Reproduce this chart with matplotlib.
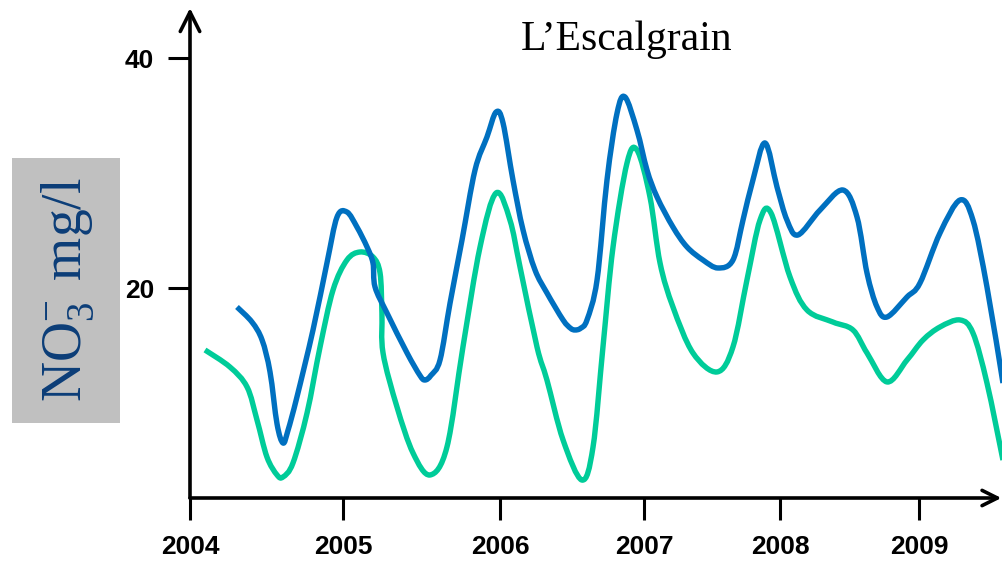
import numpy as np
import matplotlib
matplotlib.use("Agg")
import matplotlib.pyplot as plt
from matplotlib.patches import Rectangle, PathPatch
from matplotlib.path import Path

# ---------------- data (decimal years, NO3- mg/l) ----------------
blue_x = [2004.307, 2004.405, 2004.471, 2004.523, 2004.569, 2004.608, 2004.640, 2004.699,
          2004.804, 2004.895, 2004.961, 2005.025, 2005.089, 2005.153, 2005.191, 2005.204,
          2005.280, 2005.408, 2005.490, 2005.522, 2005.560, 2005.618, 2005.682, 2005.758,
          2005.841, 2005.917, 2005.975, 2006.021, 2006.090, 2006.160, 2006.243, 2006.326,
          2006.438, 2006.490, 2006.521, 2006.560, 2006.604, 2006.674, 2006.743, 2006.813,
          2006.868, 2006.951, 2007.022, 2007.096, 2007.213, 2007.316, 2007.434,
          2007.544, 2007.654, 2007.728, 2007.801, 2007.890, 2007.978, 2008.050,
          2008.129, 2008.288, 2008.453, 2008.554, 2008.626, 2008.698, 2008.770,
          2008.914, 2009.007, 2009.151, 2009.295, 2009.388, 2009.489, 2009.604]
blue_y = [18.35, 17.04, 15.48, 12.70, 8.17, 6.52, 7.60, 10.52,
          16.35, 22.17, 26.17, 26.61, 25.30, 23.57, 22.17, 20.09,
          17.83, 14.35, 12.40, 12.00, 12.40, 13.74, 18.70, 24.17,
          30.26, 33.13, 35.30, 34.35, 29.39, 25.04, 21.57, 19.57,
          17.22, 16.50, 16.35, 16.50, 17.22, 20.70, 29.39, 35.22,
          36.61, 33.74, 30.26, 27.91, 25.30, 23.57, 22.43,
          21.74, 22.43, 25.91, 29.39, 32.61, 28.78, 25.91,
          24.61, 26.78, 28.52, 26.17, 21.30, 18.35, 17.48,
          19.22, 20.43, 24.78, 27.65, 25.91, 20.09, 11.74]

green_x = [2004.098, 2004.261, 2004.373, 2004.438, 2004.503, 2004.569, 2004.608, 2004.673,
           2004.765, 2004.850, 2004.935, 2005.025, 2005.108, 2005.191, 2005.236, 2005.248,
           2005.255, 2005.344, 2005.446, 2005.554, 2005.662, 2005.764, 2005.873, 2005.975,
           2006.069, 2006.139, 2006.257, 2006.326, 2006.438, 2006.569, 2006.646, 2006.715,
           2006.785, 2006.882, 2006.951, 2007.044, 2007.118, 2007.213, 2007.360, 2007.537,
           2007.654, 2007.757, 2007.853, 2007.934, 2008.072, 2008.194, 2008.381, 2008.525,
           2008.626, 2008.770, 2008.914, 2009.029, 2009.151, 2009.295, 2009.388, 2009.489,
           2009.604]
green_y = [14.61, 13.13, 11.39, 8.52, 5.30, 3.74, 3.57, 4.78,
           9.13, 14.87, 19.83, 22.43, 23.13, 22.70, 21.30, 17.83,
           14.35, 9.65, 5.65, 3.74, 6.17, 14.87, 23.57, 28.26,
           25.91, 21.83, 14.87, 12.00, 6.78, 3.30, 6.17, 14.87,
           23.57, 30.87, 32.00, 27.91, 22.17, 18.35, 14.35, 12.70,
           14.87, 20.70, 25.91, 26.52, 20.96, 18.09, 17.04, 16.35,
           14.35, 11.83, 13.74, 15.48, 16.61, 17.22, 16.09, 11.74,
           5.04]

year_ticks = [2004, 2005, 2006, 2007, 2008, 2009]
year_labels = ["2004", "2005", "2006", "2007", "2008", "2009"]
y_ticks = [20, 40]
y_labels = ["20", "40"]
title = "L\u2019Escalgrain"

# ---------------- layout: uneven year spacing on the original axis ----------------
tick_px = np.array([0.0, 153.0, 310.0, 454.0, 590.0, 729.0])
yrs = np.array(year_ticks, dtype=float)

def fwd(x):
    x = np.asarray(x, dtype=float)
    out = np.interp(x, yrs, tick_px)
    out = np.where(x > yrs[-1], tick_px[-1] + (x - yrs[-1]) * 139.0, out)
    out = np.where(x < yrs[0], (x - yrs[0]) * 153.0, out)
    return out

def inv(p):
    p = np.asarray(p, dtype=float)
    out = np.interp(p, tick_px, yrs)
    out = np.where(p > tick_px[-1], yrs[-1] + (p - tick_px[-1]) / 139.0, out)
    out = np.where(p < tick_px[0], yrs[0] + p / 153.0, out)
    return out


def smooth_path(xs, ys):
    """Smoothed (Catmull-Rom style) Bezier path through the points."""
    pts = np.column_stack([xs, ys]).astype(float)
    n = len(pts)
    verts = [pts[0]]
    codes = [Path.MOVETO]
    for i in range(n - 1):
        p0 = pts[i - 1] if i > 0 else pts[i]
        p3 = pts[i + 2] if i + 2 < n else pts[i + 1]
        c1 = pts[i] + (pts[i + 1] - p0) / 6.0
        c2 = pts[i + 1] - (p3 - pts[i]) / 6.0
        verts += [c1, c2, pts[i + 1]]
        codes += [Path.CURVE4] * 3
    return Path(np.array(verts), codes)


W, H = 1003, 565
fig = plt.figure(figsize=(W / 100, H / 100), dpi=100)
ax = fig.add_axes([190 / W, (H - 498) / H, (1003 - 190) / W, (498 - 8) / H])
ax.set_xscale('function', functions=(fwd, inv))
ax.set_xlim(2004.0, float(inv(813.0)))
ax.set_ylim((518 - 498) / 11.5, (518 - 8) / 11.5)

for xs, ys, col, z in [(green_x, green_y, '#00CC99', 3), (blue_x, blue_y, '#0070C0', 4)]:
    ax.add_patch(PathPatch(smooth_path(xs, ys), facecolor='none', edgecolor=col,
                           lw=3.9, capstyle='butt', joinstyle='round',
                           clip_on=False, zorder=z))

for s in ax.spines.values():
    s.set_visible(False)

# axes with chevron arrow heads
ax.annotate('', xy=(0, 1), xytext=(0, 0), xycoords='axes fraction',
            arrowprops=dict(arrowstyle='->,head_length=1.0,head_width=0.5', lw=2.6,
                            color='black', shrinkA=0, shrinkB=0, mutation_scale=14))
ax.annotate('', xy=(0.998, 0), xytext=(0, 0), xycoords='axes fraction',
            arrowprops=dict(arrowstyle='->,head_length=1.0,head_width=0.5', lw=2.6,
                            color='black', shrinkA=0, shrinkB=0, mutation_scale=11))

ax.set_xticks(year_ticks)
ax.set_xticklabels(year_labels)
ax.xaxis.set_minor_locator(matplotlib.ticker.NullLocator())
ax.set_yticks(y_ticks)
ax.set_yticklabels(y_labels)
ax.tick_params(axis='x', direction='out', length=16, width=2.2, pad=11,
               labelsize=19)
ax.tick_params(axis='y', direction='out', length=16, width=2.2, pad=10,
               labelsize=19)
for lab in ax.get_xticklabels() + ax.get_yticklabels():
    lab.set_fontweight('bold')
    lab.set_family('Liberation Sans')

# title
fig.text(627 / W, 1 - 50 / H, title, ha='center', va='baseline',
         fontsize=30, family='Liberation Serif', color='black')

# y label box
fig.patches.append(Rectangle((12 / W, 1 - 423 / H), 108 / W, 265 / H,
                             transform=fig.transFigure, facecolor='#C0C0C0',
                             edgecolor='none', zorder=0))
fig.text(68 / W, 1 - 290 / H, r'$\mathregular{NO_3^{-}\ mg/l}$', rotation=90,
         ha='center', va='center', fontsize=40, family='Liberation Serif',
         color='#0B3D78', zorder=2)

fig.savefig('out.png', dpi=100)
